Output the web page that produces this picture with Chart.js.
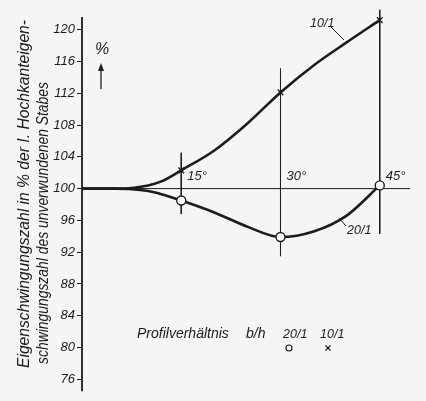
<!DOCTYPE html>
<html><head><meta charset="utf-8">
<script src="https://cdn.jsdelivr.net/npm/chart.js@4"></script>
<style>
html,body{margin:0;padding:0;background:#f5f5f3;}
#wrap{width:426px;height:401px;position:relative;}
</style></head>
<body><div id="wrap"><canvas id="c" width="426" height="401"></canvas></div>
<script>
// ---- data ----
const curveAngles = [0, 5, 7, 10, 12, 15, 20, 25, 30, 35, 40, 45];
const curve10 = [100, 100, 100.05, 100.4, 100.9, 102.3, 104.8, 108.2, 112.1, 115.5, 118.4, 121.2];
const curve20 = [100, 100, 99.95, 99.7, 99.3, 98.5, 97.0, 95.2, 93.9, 94.6, 96.6, 100.4];
const markerAngles = [15, 30, 45];
const marker10 = [102.3, 112.1, 121.2];
const marker20 = [98.5, 93.9, 100.4];
const refAngles = [15, 30, 45];
const refTop = [104.5, 115.1, 122.5];
const refBottom = [96.8, 91.5, 94.3];
const yTicks = [76, 80, 84, 88, 92, 96, 100, 104, 108, 112, 116, 120];
const degreeLabels = ['15°', '30°', '45°'];
const seriesNames = ['20/1', '10/1'];
const yTitle = ['Eigenschwingungszahl in % der I. Hochkanteigen-', 'schwingungszahl des unverwundenen Stabes'];

const INK = '#1c1c1c';
const FONT = '"Liberation Sans", Arial, sans-serif';
const pts = (xs, ys) => xs.map((x, i) => ({x, y: ys[i]}));

const datasets = [];
datasets.push({data: pts(curveAngles, curve10), borderColor: INK, borderWidth: 2.6, pointRadius: 0, showLine: true, cubicInterpolationMode: 'monotone', order: 1});
datasets.push({data: pts(curveAngles, curve20), borderColor: INK, borderWidth: 2.6, pointRadius: 0, showLine: true, cubicInterpolationMode: 'monotone', order: 1});
refAngles.forEach((a, i) => datasets.push({data: [{x: a, y: refTop[i]}, {x: a, y: refBottom[i]}], borderColor: INK, borderWidth: 1, pointRadius: 0, showLine: true, order: 2}));
datasets.push({data: [{x: 0, y: 100}, {x: 49.6, y: 100}], borderColor: INK, borderWidth: 1, pointRadius: 0, showLine: true, order: 2});
datasets.push({data: [{x: 0, y: 74.5}, {x: 0, y: 121.6}], borderColor: INK, borderWidth: 1.8, pointRadius: 0, showLine: true, order: 2});
datasets.push({data: pts(markerAngles, marker10), pointStyle: 'crossRot', pointRadius: 4, borderColor: INK, borderWidth: 1.4, showLine: false, order: 0});
datasets.push({data: pts(markerAngles, marker20), pointStyle: 'circle', pointRadius: 4.5, backgroundColor: '#ffffff', borderColor: INK, borderWidth: 1.4, showLine: false, order: 0});
datasets.forEach(d => { d.clip = false; });

const annot = {
  id: 'annot',
  afterDraw(chart) {
    const ctx = chart.ctx;
    const xs = chart.scales.x, ys = chart.scales.y;
    const X = v => xs.getPixelForValue(v), Y = v => ys.getPixelForValue(v);
    ctx.save();
    ctx.fillStyle = INK; ctx.strokeStyle = INK;
    // axis title (rotated); common font height, each line fitted to its length
    ctx.font = 'italic 20px ' + FONT;
    const size = 20 * 348 / ctx.measureText(yTitle[0]).width;
    const titlePos = [[25, 368, 348], [44, 364, 282]];
    yTitle.forEach((t, i) => {
      ctx.save();
      ctx.font = 'italic ' + size.toFixed(2) + 'px ' + FONT;
      const w = ctx.measureText(t).width;
      ctx.translate(titlePos[i][0], titlePos[i][1]);
      ctx.rotate(-Math.PI / 2);
      ctx.scale(titlePos[i][2] / w, 1);
      ctx.textAlign = 'left'; ctx.textBaseline = 'middle';
      ctx.fillText(t, 0, 0);
      ctx.restore();
    });
    // degree labels
    ctx.font = 'italic 13px ' + FONT;
    ctx.textAlign = 'left'; ctx.textBaseline = 'alphabetic';
    refAngles.forEach((a, i) => ctx.fillText(degreeLabels[i], X(a) + 6, Y(100) - 9));
    // series labels with leaders
    ctx.font = 'italic 12.5px ' + FONT;
    ctx.fillText(seriesNames[1], 310, 27);
    ctx.fillText(seriesNames[0], 347, 234);
    ctx.lineWidth = 1;
    ctx.beginPath(); ctx.moveTo(331, 27); ctx.lineTo(344, 40); ctx.stroke();
    ctx.beginPath(); ctx.moveTo(339, 218); ctx.lineTo(346, 226); ctx.stroke();
    // % and arrow
    ctx.font = 'italic 16px ' + FONT;
    ctx.textAlign = 'center';
    ctx.fillText('%', 102, 54);
    ctx.lineWidth = 1.3;
    ctx.beginPath(); ctx.moveTo(101, 89); ctx.lineTo(101, 66); ctx.stroke();
    ctx.beginPath(); ctx.moveTo(98, 71); ctx.lineTo(101, 63); ctx.lineTo(104, 71); ctx.closePath(); ctx.fill();
    // legend
    ctx.textAlign = 'left';
    ctx.font = 'italic 14px ' + FONT;
    ctx.fillText('Profilverhältnis', 137, 338);
    ctx.fillText('b/h', 246, 338);
    ctx.font = 'italic 12.5px ' + FONT;
    ctx.fillText(seriesNames[0], 283, 338);
    ctx.fillText(seriesNames[1], 320, 338);
    ctx.lineWidth = 1.2;
    ctx.beginPath(); ctx.arc(289, 348, 3, 0, Math.PI * 2); ctx.stroke();
    ctx.beginPath(); ctx.moveTo(325.5, 345.5); ctx.lineTo(330.5, 350.5); ctx.moveTo(330.5, 345.5); ctx.lineTo(325.5, 350.5); ctx.stroke();
    ctx.restore();
  }
};

new Chart(document.getElementById('c'), {
  type: 'scatter',
  data: {datasets},
  options: {
    responsive: false, animation: false, events: [],
    layout: {padding: 0},
    plugins: {legend: {display: false}, tooltip: {enabled: false}},
    scales: {
      x: {type: 'linear', display: false, min: 0, max: 51.1},
      y: {
        type: 'linear', min: 74.5, max: 122.5,
        afterBuildTicks: s => { s.ticks = yTicks.map(v => ({value: v})); },
        afterFit: s => { s.width = 82; },
        border: {display: false},
        grid: {drawOnChartArea: false, drawTicks: true, tickLength: 5, color: INK, lineWidth: 1},
        ticks: {color: INK, padding: 2, font: {family: FONT, size: 13, style: 'italic'}}
      }
    }
  },
  plugins: [annot]
});
</script></body></html>
